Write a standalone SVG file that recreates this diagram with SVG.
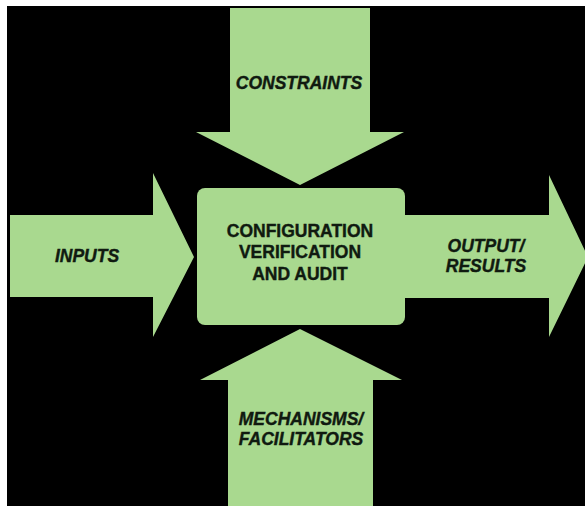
<svg xmlns="http://www.w3.org/2000/svg" width="585" height="506" viewBox="0 0 585 506">
  <style>
    .shape { fill: #a9d98f; }
    .lbl { font-family: "Liberation Sans", Arial, sans-serif; font-weight: bold; font-style: italic; font-size: 17.5px; fill: #101a10; stroke: #101a10; stroke-width: 0.4; text-anchor: middle; }
    .ctr { font-family: "Liberation Sans", Arial, sans-serif; font-weight: bold; font-size: 17.5px; fill: #101a10; stroke: #101a10; stroke-width: 0.4; text-anchor: middle; }
  </style>
  <rect x="0" y="0" width="585" height="506" fill="#ffffff"/>
  <rect x="7" y="6" width="578" height="500" fill="#000000"/>
  <g id="connectors">
    <g id="constraints">
      <polygon class="shape" points="230,8 370,8 370,132 404,132 300,185 196,132 230,132"/>
      <text class="lbl" x="299" y="89">CONSTRAINTS</text>
    </g>
    <g id="inputs">
      <polygon class="shape" points="10,215 153,215 153,173 194,257 153,337 153,297 10,297"/>
      <text class="lbl" x="87" y="262">INPUTS</text>
    </g>
    <g id="outputs">
      <polygon class="shape" points="405,215 549,215 549,175 588,257 549,337 549,298 405,298"/>
      <text class="lbl" x="486" y="252">OUTPUT/</text>
      <text class="lbl" x="486" y="272">RESULTS</text>
    </g>
    <g id="mechanisms">
      <polygon class="shape" points="300,329 402,380 373,380 373,506 228,506 228,380 200,380"/>
      <text class="lbl" x="301" y="425">MECHANISMS/</text>
      <text class="lbl" x="301" y="445">FACILITATORS</text>
    </g>
  </g>
  <g id="center">
    <rect class="shape" x="197" y="188" width="208" height="137" rx="8"/>
    <text class="ctr" x="300" y="237">CONFIGURATION</text>
    <text class="ctr" x="300" y="258">VERIFICATION</text>
    <text class="ctr" x="300" y="280">AND AUDIT</text>
  </g>
</svg>
